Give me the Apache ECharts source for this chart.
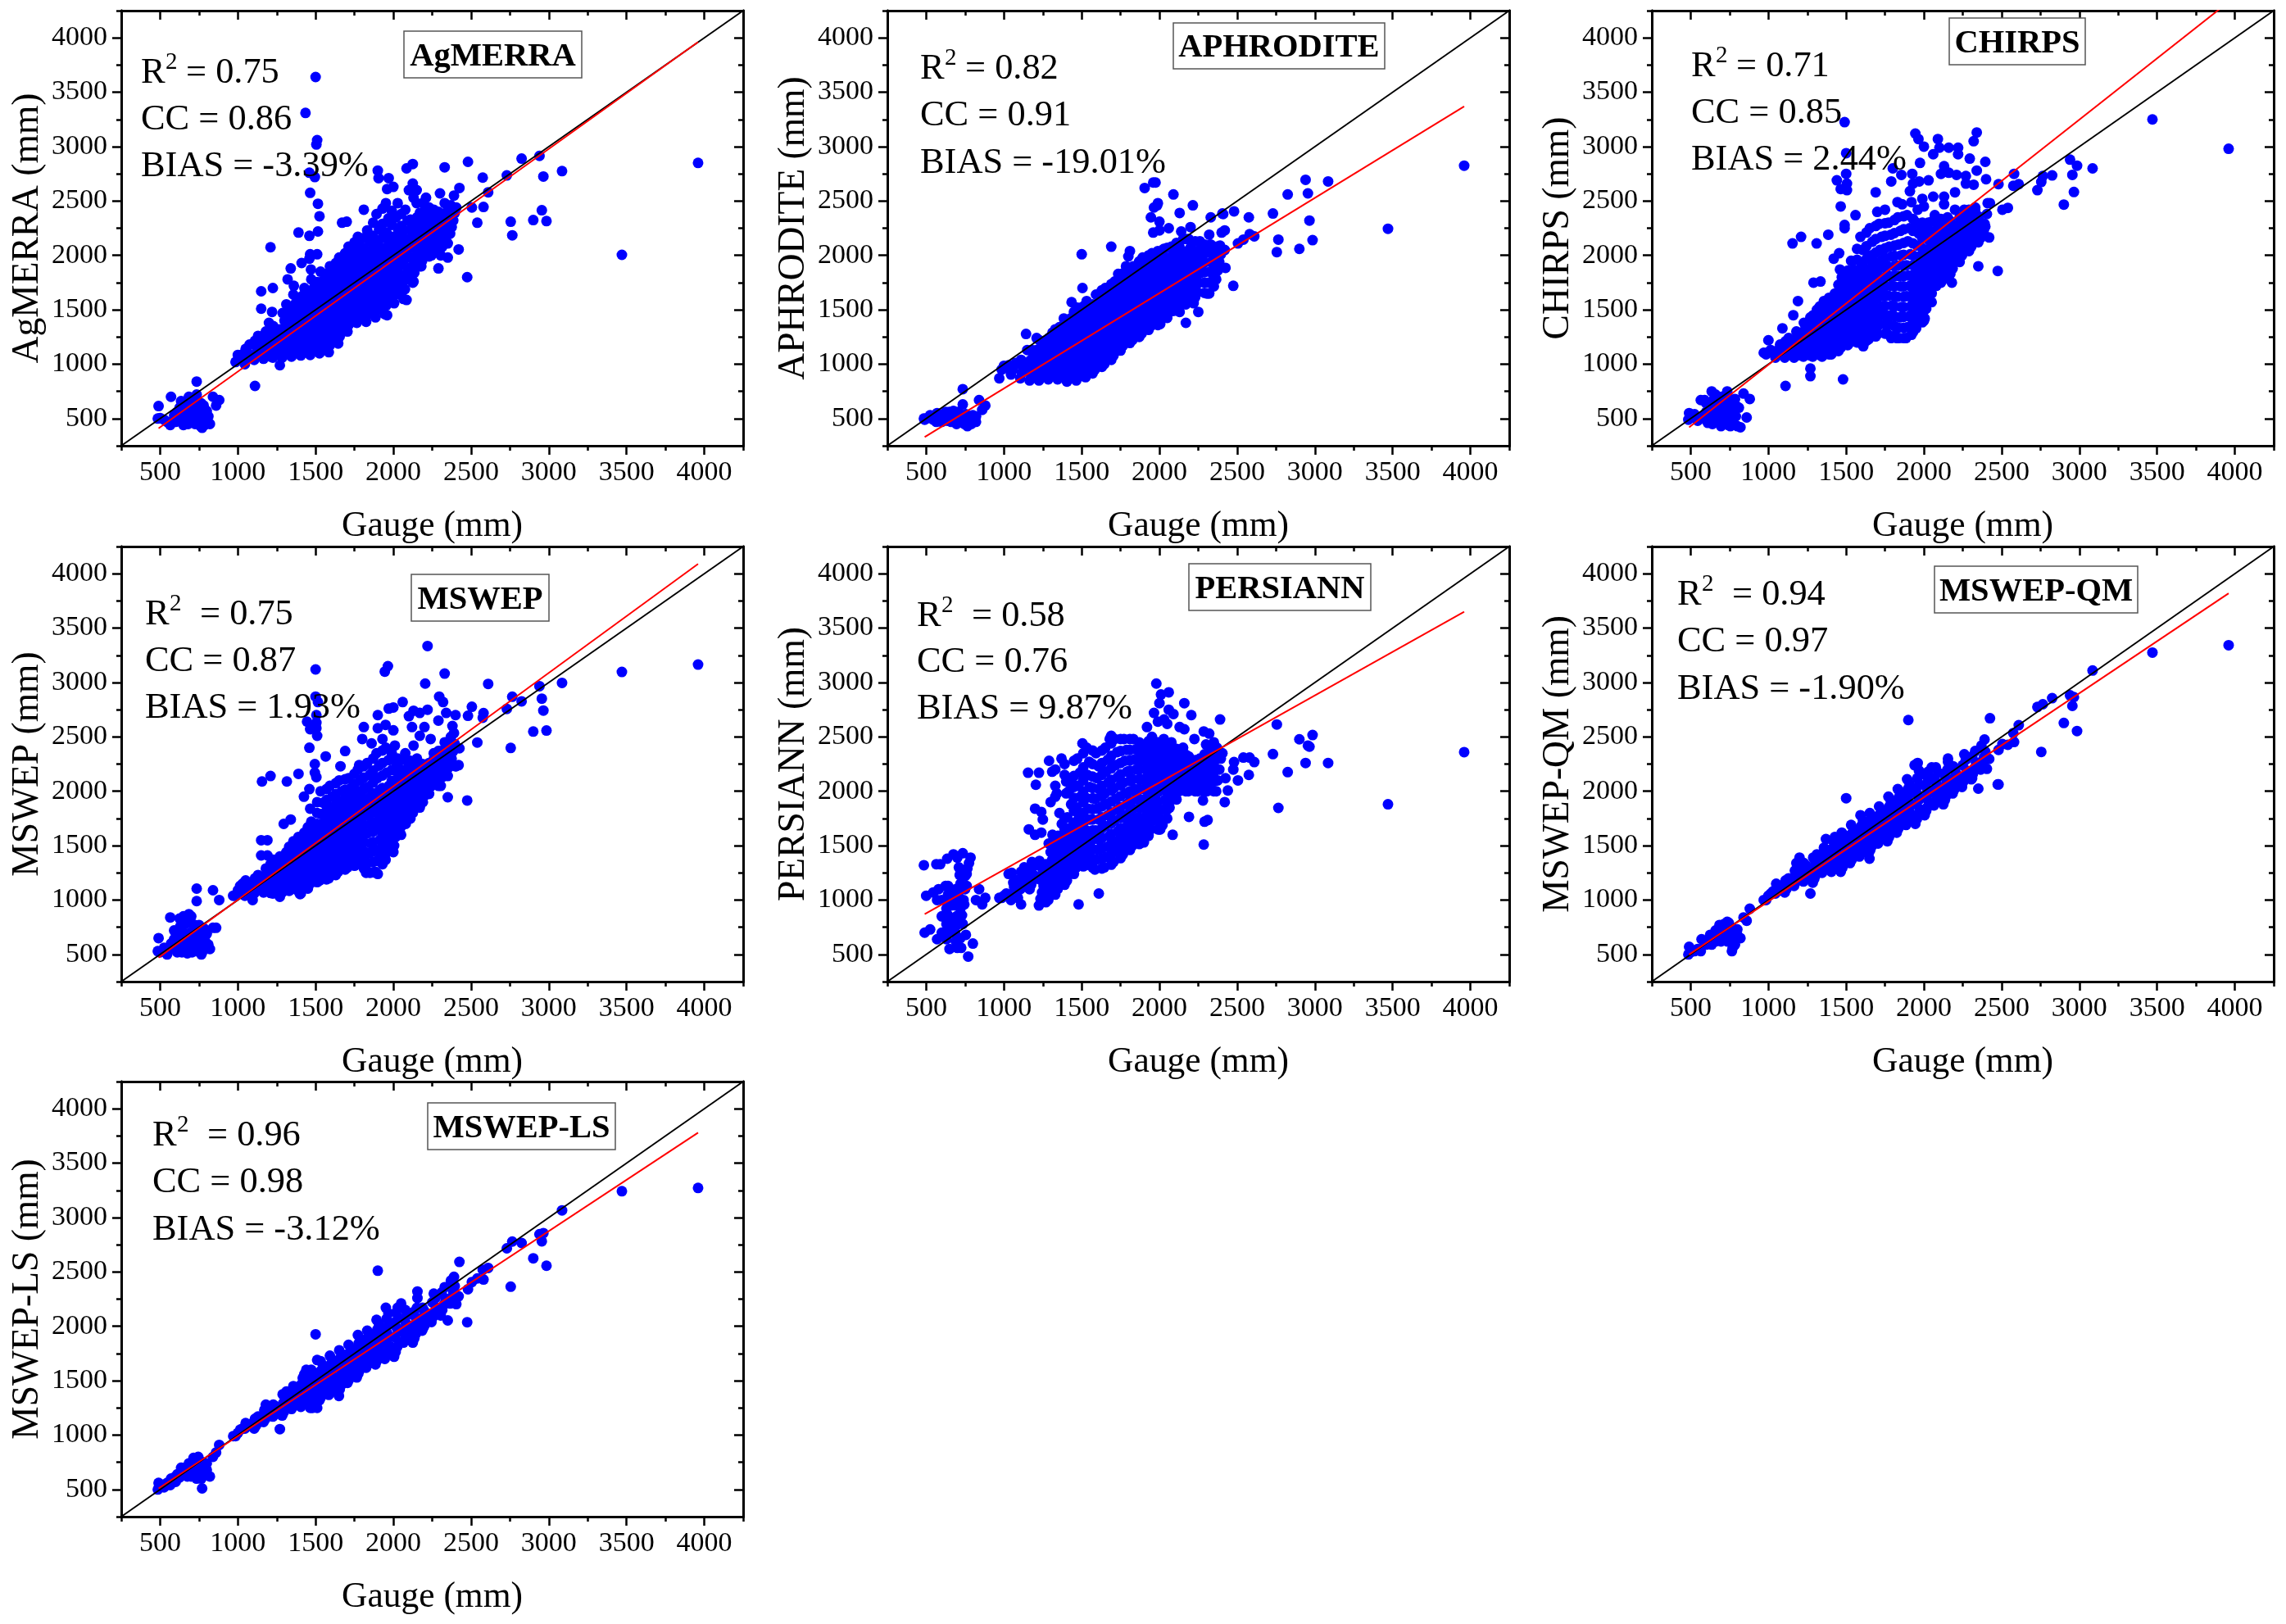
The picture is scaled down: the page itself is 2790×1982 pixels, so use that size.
<!DOCTYPE html>
<html><head><meta charset="utf-8">
<style>html,body{margin:0;padding:0;background:#fff}#c{width:2790px;height:1982px}</style>
<script src="https://cdn.jsdelivr.net/npm/echarts@6/dist/echarts.min.js"></script>
</head><body><div id="c"></div>
<script>
const productNames=['AgMERRA','APHRODITE','CHIRPS','MSWEP','PERSIANN','MSWEP-QM','MSWEP-LS'];
const r2Labels=['0.75','0.82','0.71','0.75','0.58','0.94','0.96'];
const ccLabels=['0.86','0.91','0.85','0.87','0.76','0.97','0.98'];
const biasLabels=['-3.39%','-19.01%','2.44%','1.93%','9.87%','-1.90%','-3.12%'];
const majorTicks=[500,1000,1500,2000,2500,3000,3500,4000];

const gaugeHigh=[3960,3470,3085,2985,2965,2955,2940,2900,2825,2765,2755,2730,2610,2580,2575,2540,2505,2480,2475,2425,2420,2405,2390];
const agmerraHigh=[2850,2005,2775,2315,2725,2415,2915,2325,2890,2185,2310,2735,2580,2445,2715,2300,2440,2860,1800,2620,2055,2440,2550];
const aphroditeHigh=[2825,2245,2680,2140,2320,2570,2695,2060,2560,2145,2030,2385,2175,2195,2350,2145,2110,2405,1720,1885,2050,2385,2090];
const chirpsHigh=[2980,3250,2800,2825,2583,2740,2880,2467,2735,2730,2675,2600,2655,2750,2640,2437,2420,2655,1857,2480,2165,2380,2290];
const mswepHigh=[3165,3097,2996,2558,2742,2851,2966,2549,2827,2869,2398,2757,2987,2718,2676,2448,2777,2694,1915,2395,2240,2232,2535];
const persiannHigh=[2360,1880,2260,2517,2410,2420,2260,2478,2176,1847,2614,2342,2268,2310,2150,2310,2100,2268,2200,2120,1900,2350,2660];
const qmHigh=[3343,3275,3110,2554,2866,2785,2882,2628,2856,2800,2362,2775,2607,2453,2535,2427,2434,2380,2063,2671,2297,2206,2476];
const lsHigh=[3272,3242,3066,2557,2857,2782,2847,2625,2766,2779,2364,2717,2537,2430,2520,2440,2407,2341,2038,2592,2276,2204,2455];

const gaugeLow=[485,490,500,525,545,565,570,590,610,625,635,650,660,675,685,695,705,715,725,735,735,745,755,765,770,785,800,820,840,860,880];
const agmerraLow=[500,615,505,490,470,440,700,530,560,600,660,440,500,560,700,480,610,530,450,840,720,560,480,640,415,440,570,450,700,620,670];
const aphroditeLow=[500,490,500,530,490,470,550,510,490,560,480,520,470,570,510,450,560,480,530,770,630,450,540,430,470,500,530,470,670,580,620];
const chirpsLow=[490,550,510,540,480,670,500,670,460,540,750,480,720,560,640,430,600,510,660,750,460,580,430,620,500,680,430,420,730,510,680];
const mswepLow=[530,650,520,560,500,840,600,720,560,830,530,640,780,510,870,700,520,620,770,1105,990,560,730,500,600,650,570,550,1090,745,1000];
const persiannLow=[1320,700,1040,730,1070,1330,640,1330,850,1130,1380,550,950,1420,700,850,1040,1230,560,1430,780,960,680,1290,480,1390,600,1000,1100,960,1020];
const qmLow=[500,570,520,530,550,530,640,600,620,680,590,660,720,650,770,620,700,780,660,620,800,790,700,530,620,590,730,650,840,810,920];
const lsLow=[500,560,530,520,560,540,600,610,640,610,700,640,700,620,740,660,700,790,650,780,600,800,720,600,510,700,740,620,800,840,910];

const gaugeMid=[
[985,1000,1015,1030],
[1045,1055,1065,1075,1050],
[1105,1115,1125,1135,1110,1130],
[1165,1175,1185,1195,1170,1190,1180],
[1225,1235,1245,1255,1230,1250,1240,1228],
[1285,1295,1305,1315,1290,1310,1300,1288,1312],
[1345,1355,1365,1375,1350,1370,1360,1348,1372,1357],
[1405,1415,1425,1435,1410,1430,1420,1408,1432,1417,1428],
[1465,1475,1485,1495,1470,1490,1480,1468,1492,1477,1488,1472],
[1525,1535,1545,1555,1530,1550,1540,1528,1552,1537,1548,1532],
[1585,1595,1605,1615,1590,1610,1600,1588,1612,1597,1608,1592],
[1645,1655,1665,1675,1650,1670,1660,1648,1672,1657,1668,1652],
[1705,1715,1725,1735,1710,1730,1720,1708,1732,1717,1728,1712],
[1765,1775,1785,1795,1770,1790,1780,1768,1792,1777,1788,1772],
[1825,1835,1845,1855,1830,1850,1840,1828,1852,1837,1848,1832],
[1885,1895,1905,1915,1890,1910,1900,1888,1912,1897,1908,1892],
[1945,1955,1965,1975,1950,1970,1960,1948,1972,1957,1968,1952],
[2005,2015,2025,2035,2010,2030,2020,2008,2032,2017,2028],
[2065,2075,2085,2095,2070,2090,2080,2068,2092,2077],
[2125,2135,2145,2155,2130,2150,2140,2128,2152],
[2185,2195,2205,2215,2190,2210,2200,2188],
[2245,2255,2265,2275,2250,2270,2260],
[2305,2315,2325,2335,2310,2330],
[2365,2375,2385,2395,2370]];

const agmerraMid=[
[1020,1085,1050,1090],[1000,1050,1100,1180,1140],[1040,1090,1130,1170,1215,1260],[1050,1090,1130,1170,1210,1260,1300],
[1060,1100,1145,1185,1230,1270,1310,1350],[1060,1115,1170,1225,1280,1340,1400,1470,1550],[1070,1130,1190,1250,1310,1370,1430,1490,1560,1640],
[1080,1140,1200,1260,1320,1380,1440,1500,1560,1630,1700],[1085,1145,1205,1265,1325,1385,1445,1505,1565,1625,1700,1780],
[1100,1165,1230,1295,1360,1425,1490,1555,1620,1685,1765,1850],[1110,1180,1250,1320,1390,1460,1530,1600,1670,1740,1820,1900],
[1190,1255,1320,1385,1450,1515,1580,1650,1720,1790,1880,1980],[1300,1365,1430,1495,1560,1625,1690,1755,1820,1890,1980,2080],
[1380,1445,1510,1575,1640,1710,1780,1850,1920,1990,2080,2170],[1390,1460,1530,1600,1670,1740,1810,1880,1950,2030,2130,2230],
[1430,1500,1570,1640,1715,1790,1865,1940,2020,2110,2240,2380],[1460,1540,1620,1700,1780,1860,1940,2020,2110,2210,2340,2480],
[1560,1640,1720,1800,1880,1960,2040,2130,2230,2350,2480],[1600,1690,1780,1870,1960,2050,2140,2230,2320,2420],
[1750,1840,1930,2020,2100,2170,2240,2300,2350],[1950,2030,2110,2190,2270,2340,2410,2480],[2000,2070,2140,2210,2280,2350,2420],
[2000,2080,2160,2230,2300,2380],[2200,2260,2320,2390,2460]];
const aphroditeMid=[
[950,985,965,990],[905,945,985,1010,960],[870,920,955,1000,1040,975],[850,895,945,990,1035,1090,1130],
[850,900,950,1000,1050,1105,1160,1220],[860,915,970,1025,1080,1130,1185,1240,1290],[860,915,970,1030,1085,1140,1190,1240,1295,1340],
[840,900,960,1020,1080,1135,1190,1245,1300,1360,1420],[850,910,970,1030,1090,1150,1210,1270,1330,1390,1455,1520],
[880,940,1000,1060,1120,1180,1240,1300,1360,1430,1505,1580],[950,1010,1065,1120,1180,1240,1300,1360,1425,1490,1565,1640],
[1000,1060,1120,1180,1240,1300,1365,1430,1495,1560,1630,1700],[1080,1135,1195,1250,1310,1370,1430,1490,1555,1620,1690,1760],
[1170,1225,1280,1340,1400,1460,1520,1580,1640,1705,1770,1840],[1220,1280,1340,1400,1460,1520,1580,1640,1705,1770,1835,1900],
[1280,1340,1405,1465,1530,1590,1650,1715,1780,1845,1915,1980],[1350,1410,1470,1530,1590,1650,1710,1770,1830,1895,1960,2020],
[1370,1440,1510,1580,1650,1720,1790,1855,1920,1990,2060],[1480,1550,1620,1690,1760,1830,1900,1965,2025,2080],
[1530,1610,1690,1770,1850,1930,2000,2080,2150],[1570,1650,1740,1830,1910,1990,2070,2150],[1660,1750,1840,1930,2010,2075,2130],
[1650,1750,1850,1940,2025,2100],[1780,1860,1940,2010,2080]];
const chirpsMid=[
[1090,1110,1130,1105],[1060,1095,1130,1180,1115],[1060,1100,1140,1180,1210,1240],[1060,1100,1140,1180,1220,1260,1300],
[1070,1115,1160,1205,1250,1295,1340,1380],[1070,1125,1180,1235,1285,1340,1395,1450,1500],[1070,1125,1185,1240,1295,1350,1410,1465,1520,1580],
[1090,1145,1200,1255,1310,1370,1430,1485,1540,1595,1650],[1150,1210,1270,1330,1390,1450,1510,1570,1630,1690,1745,1800],
[1200,1265,1330,1395,1460,1525,1590,1655,1720,1790,1870,1950],[1200,1280,1360,1440,1520,1600,1680,1760,1840,1930,2050,2170],
[1230,1315,1400,1485,1570,1655,1740,1825,1910,2000,2125,2250],[1280,1365,1450,1535,1620,1705,1790,1875,1960,2050,2170,2290],
[1280,1365,1450,1540,1630,1720,1810,1900,1990,2080,2190,2300],[1240,1335,1430,1525,1620,1715,1810,1905,2000,2100,2225,2350],
[1240,1340,1440,1530,1625,1720,1815,1910,2010,2130,2250,2370],[1350,1430,1510,1590,1670,1750,1830,1910,1990,2090,2200,2300],
[1420,1510,1600,1690,1780,1870,1960,2050,2140,2230,2300],[1720,1790,1860,1930,2000,2070,2140,2200,2260,2320],
[1780,1850,1920,1990,2060,2130,2200,2280,2350],[1880,1950,2010,2070,2120,2170,2230,2280],[2000,2070,2140,2210,2280,2350,2420],
[2080,2150,2215,2280,2350,2420],[2160,2195,2230,2265,2300]];
const mswepMid=[
[1040,1090,1130,1150],[1040,1080,1120,1150,1180],[1060,1100,1135,1165,1200,1230],[1070,1105,1140,1180,1215,1250,1290],
[1060,1105,1150,1195,1240,1285,1330,1370],[1070,1115,1160,1205,1250,1295,1345,1395,1440],[1100,1145,1190,1235,1280,1330,1380,1430,1485,1540],
[1060,1120,1180,1240,1290,1345,1400,1450,1505,1560,1620],[1150,1200,1250,1300,1350,1400,1450,1505,1560,1610,1665,1720],
[1180,1240,1300,1365,1430,1500,1570,1640,1710,1790,1895,2000],[1200,1270,1340,1410,1480,1550,1620,1695,1770,1850,1950,2050],
[1260,1330,1400,1470,1540,1610,1680,1750,1825,1905,2000,2100],[1300,1370,1440,1510,1580,1650,1720,1790,1865,1945,2030,2120],
[1330,1400,1470,1540,1610,1685,1760,1835,1915,2000,2100,2200],[1250,1340,1430,1520,1610,1695,1780,1865,1950,2040,2150,2260],
[1260,1360,1460,1555,1650,1740,1830,1920,2010,2120,2235,2350],[1400,1480,1560,1640,1720,1800,1880,1960,2050,2170,2285,2400],
[1500,1580,1660,1740,1820,1900,1980,2060,2140,2220,2300],[1700,1770,1840,1910,1980,2050,2120,2190,2270,2350],
[1800,1860,1920,1980,2040,2100,2160,2230,2300],[1900,1950,2000,2050,2100,2150,2200,2250],[2050,2090,2130,2170,2210,2255,2300],
[2050,2130,2210,2290,2370,2450],[2230,2300,2370,2435,2500]];
const persiannMid=[
[1020,1040,1060,1030],[1000,1060,1120,1185,1250],[1100,1140,1180,1220,1260,1300],[1100,1140,1180,1225,1270,1310,1350],
[950,1010,1070,1130,1190,1250,1305,1360],[1000,1075,1150,1225,1300,1370,1440,1520,1600],[1100,1170,1240,1310,1380,1450,1520,1590,1700,1800],
[1180,1260,1340,1420,1500,1580,1660,1760,1880,2000,2120],[1300,1370,1440,1510,1580,1660,1750,1850,1950,2050,2170,2300],
[1320,1400,1480,1560,1640,1740,1840,1940,2040,2150,2270,2400],[1280,1370,1460,1550,1640,1740,1840,1930,2020,2120,2230,2350],
[1300,1395,1490,1585,1680,1780,1880,1980,2080,2180,2290,2400],[1350,1445,1540,1635,1730,1830,1930,2030,2130,2240,2360,2480],
[1420,1510,1600,1690,1780,1880,1980,2080,2180,2280,2380,2480],[1500,1585,1670,1755,1840,1930,2020,2110,2200,2290,2385,2480],
[1530,1610,1690,1770,1850,1930,2020,2110,2200,2280,2350,2420],[1650,1730,1810,1890,1970,2050,2130,2210,2280,2350,2425,2500],
[1650,1740,1830,1920,2010,2100,2180,2260,2330,2400,2480],[1850,1920,1990,2060,2130,2195,2260,2320,2385,2450],
[2000,2050,2100,2150,2200,2250,2300,2350,2400],[2000,2045,2090,2135,2180,2225,2270,2320],[2000,2050,2100,2150,2200,2250,2300],
[2000,2075,2150,2225,2300,2380],[2000,2100,2200,2300,2400]];
const qmMid=[
[1000,1040,1060,1080],[1060,1085,1105,1130,1150],[1070,1100,1130,1155,1180,1200],[1130,1165,1200,1235,1270,1305,1340],
[1170,1195,1220,1245,1270,1295,1320,1340],[1160,1195,1230,1265,1300,1330,1360,1390,1420],[1250,1275,1300,1325,1350,1375,1400,1425,1455,1480],
[1260,1290,1320,1350,1380,1410,1440,1470,1500,1540,1580],[1260,1295,1330,1365,1400,1435,1470,1505,1540,1565,1595,1620],
[1340,1370,1400,1430,1460,1490,1520,1550,1580,1610,1650,1690],[1400,1430,1460,1490,1520,1550,1580,1610,1640,1680,1730,1780],
[1430,1460,1495,1530,1565,1600,1635,1670,1705,1740,1770,1800],[1520,1550,1580,1610,1640,1670,1700,1730,1760,1790,1825,1860],
[1540,1575,1610,1645,1680,1715,1750,1785,1820,1860,1905,1950],[1620,1655,1690,1725,1760,1795,1830,1865,1900,1940,1980,2020],
[1690,1725,1760,1795,1830,1865,1900,1940,1980,2020,2065,2110],[1700,1745,1790,1835,1880,1925,1970,2015,2060,2120,2190,2250],
[1780,1820,1860,1900,1940,1980,2020,2060,2100,2140,2180],[1870,1905,1940,1975,2010,2045,2080,2120,2170,2220],
[1880,1920,1960,2000,2040,2080,2120,2160,2200],[1980,2015,2050,2085,2120,2155,2190,2230],[2040,2090,2140,2190,2240,2290,2340],
[2110,2160,2210,2265,2320,2370],[2200,2255,2310,2365,2420]];
const lsMid=[
[990,1020,1050,1060],[1060,1075,1090,1100,1110],[1060,1085,1110,1130,1150,1170],[1120,1145,1175,1205,1230,1255,1280],
[1170,1185,1200,1215,1230,1250,1265,1280],[1180,1210,1240,1265,1290,1320,1350,1375,1400],[1240,1265,1290,1315,1340,1365,1390,1410,1430,1450],
[1260,1290,1320,1350,1380,1410,1440,1465,1490,1525,1560],[1250,1285,1320,1355,1390,1425,1460,1490,1520,1550,1575,1600],
[1320,1350,1380,1410,1440,1470,1500,1530,1560,1595,1640,1680],[1370,1400,1430,1460,1490,1520,1550,1580,1610,1650,1690,1730],
[1380,1420,1460,1495,1530,1565,1600,1635,1670,1705,1745,1780],[1480,1510,1540,1570,1600,1630,1660,1690,1720,1755,1795,1830],
[1530,1565,1600,1635,1670,1705,1740,1775,1810,1845,1885,1920],[1620,1650,1680,1710,1740,1770,1800,1830,1860,1895,1930,1960],
[1650,1685,1720,1755,1790,1825,1860,1895,1930,1970,2015,2060],[1700,1740,1780,1820,1860,1900,1940,1980,2020,2070,2120,2170],
[1720,1765,1810,1855,1900,1945,1990,2035,2080,2125,2170],[1850,1880,1910,1940,1970,2000,2030,2065,2105,2150],
[1850,1890,1930,1970,2010,2050,2090,2130,2170],[1960,1990,2020,2050,2080,2110,2140,2170],[2040,2085,2130,2175,2220,2260,2300],
[2100,2150,2200,2255,2310,2360],[2210,2265,2320,2370,2420]];

// interior of the dense clouds, one list of y per gauge value below
const gaugeCore=[1210,1270,1330,1390,1450,1510,1570,1630,1690,1750,1810,1870,1930,1990,2050,2110,2170,2230,2290,2350];
const agmerraCore=[
[1070,1110,1150,1190,1235,1280],[1080,1130,1175,1225,1275,1320],[1095,1150,1210,1265,1320,1385,1450,1520],[1100,1160,1220,1280,1340,1400,1460,1525,1600],
[1110,1170,1230,1290,1350,1410,1470,1530,1595,1665],[1125,1190,1250,1310,1375,1440,1500,1560,1625,1690,1755],[1140,1210,1275,1340,1410,1475,1545,1610,1680,1750,1830],
[1220,1285,1350,1420,1490,1560,1625,1695,1765,1850,1930],[1330,1395,1465,1525,1590,1655,1725,1790,1855,1935,2020],[1410,1475,1540,1610,1675,1745,1815,1885,1955,2035,2120],
[1425,1495,1565,1635,1705,1775,1845,1915,1985,2065,2160],[1465,1535,1605,1680,1750,1825,1900,1980,2070,2180,2300],[1500,1580,1660,1740,1820,1900,1980,2065,2160,2290,2430],
[1590,1670,1750,1830,1910,1990,2080,2170,2280,2410],[1640,1730,1820,1910,2000,2090,2180,2270,2380],[1800,1890,1980,2070,2160,2240,2330],[1900,1990,2080,2160,2240,2310,2390],
[1990,2060,2130,2210,2280,2350,2440],[2040,2110,2190,2260,2330,2400],[2110,2190,2260,2340,2420]];
const aphroditeCore=[
[875,925,975,1025,1075,1130],[885,935,990,1045,1100,1165,1220],[890,945,1000,1055,1110,1165,1220,1270,1320],[880,935,990,1045,1100,1160,1215,1270,1330,1385],
[875,935,995,1055,1115,1170,1230,1290,1350,1410,1480],[890,955,1015,1075,1135,1195,1255,1315,1380,1450,1530],[915,980,1040,1095,1150,1210,1270,1330,1395,1465,1550],
[975,1035,1095,1150,1210,1270,1335,1400,1465,1530,1615,1680],[1040,1100,1160,1215,1275,1335,1400,1460,1525,1590,1660,1735],[1125,1180,1240,1295,1355,1415,1475,1535,1600,1665,1730,1800],
[1195,1250,1310,1370,1430,1490,1550,1610,1675,1740,1800,1870],[1250,1310,1370,1430,1495,1555,1615,1680,1740,1810,1875,1945],[1315,1375,1440,1500,1560,1620,1680,1740,1805,1870,1940,2000],
[1360,1425,1490,1555,1620,1685,1750,1815,1875,1945,2040],[1425,1495,1565,1635,1705,1775,1845,1910,1975,2070],[1505,1580,1655,1730,1810,1880,1950,2040,2115],[1550,1630,1715,1800,1880,1960,2035,2150],
[1615,1700,1790,1880,1960,2040,2130],[1655,1750,1845,1935,2020,2100],[1715,1805,1890,1975,2060]];
const chirpsCore=[
[1080,1120,1160,1200,1240,1290],[1080,1125,1170,1220,1265,1320,1370,1430],[1085,1140,1195,1250,1305,1360,1420,1480,1530],[1090,1150,1205,1260,1320,1380,1440,1495,1560,1610],
[1120,1180,1240,1300,1360,1420,1480,1540,1600,1665,1730],[1175,1240,1300,1365,1425,1490,1550,1620,1690,1770,1860],[1200,1270,1345,1420,1490,1560,1635,1710,1780,1860,1960,2060],
[1215,1300,1380,1460,1545,1630,1710,1790,1875,1965,2085,2210],[1255,1340,1425,1510,1595,1680,1765,1850,1935,2025,2150,2270],[1280,1365,1450,1535,1625,1715,1800,1885,1975,2065,2180,2295],
[1260,1350,1440,1530,1625,1715,1810,1900,1995,2090,2205,2325],[1240,1335,1435,1525,1620,1715,1810,1905,2005,2115,2240,2360],[1295,1385,1475,1560,1645,1735,1820,1910,2000,2110,2225,2335],
[1385,1470,1555,1640,1725,1810,1895,1980,2065,2160,2250,2300],[1570,1650,1730,1815,1900,1985,2070,2150,2220,2310],[1750,1820,1890,1960,2030,2100,2170,2240,2335],[1830,1900,1965,2030,2095,2150,2215,2315],
[1940,2010,2075,2140,2210,2290,2350],[2040,2110,2180,2245,2315,2420],[2120,2170,2225,2280,2360]];
const mswepCore=[
[1065,1105,1145,1190,1230,1270,1330],[1065,1110,1155,1200,1245,1290,1340,1400],[1085,1130,1175,1220,1265,1310,1360,1410,1490],[1080,1130,1185,1240,1285,1340,1390,1440,1495,1580],
[1105,1160,1215,1270,1320,1370,1425,1480,1530,1590,1670],[1165,1220,1275,1330,1390,1450,1510,1575,1635,1700,1800,1900],[1190,1255,1320,1385,1455,1525,1595,1665,1740,1820,1920,2020],
[1230,1300,1370,1440,1510,1580,1650,1720,1795,1880,1975,2075],[1280,1350,1420,1490,1560,1630,1700,1770,1845,1925,2015,2110],[1315,1385,1455,1525,1595,1665,1740,1815,1890,1970,2065,2160],
[1290,1370,1450,1530,1610,1690,1770,1850,1930,2020,2125,2230],[1255,1350,1445,1535,1630,1715,1805,1890,1980,2080,2190,2300],[1330,1420,1510,1600,1685,1770,1855,1940,2030,2145,2260,2375],
[1450,1530,1610,1690,1770,1850,1930,2010,2095,2195,2295,2350],[1600,1675,1750,1825,1900,1975,2050,2125,2200,2290],[1750,1815,1880,1945,2010,2075,2140,2210,2280],[1850,1905,1960,2015,2070,2125,2180,2240],
[1975,2025,2070,2120,2160,2210,2260],[2050,2100,2160,2220,2290,2370],[2140,2210,2290,2370,2450]];
const persiannCore=[
[],[1050,1120,1190,1260,1330],[1050,1120,1190,1260,1330,1400,1470,1560,1950,2050,2200],[1140,1210,1280,1350,1420,1490,1560,1650,1750,2150,2250],
[1240,1310,1380,1460,1540,1620,1710,1820,1940,2040,2140,2280],[1310,1380,1460,1540,1620,1710,1800,1900,2000,2100,2220,2350],[1300,1380,1470,1555,1640,1740,1835,1935,2030,2135,2250,2375],
[1290,1380,1475,1570,1660,1760,1860,1955,2050,2150,2260,2375],[1325,1420,1515,1610,1705,1805,1905,2005,2105,2210,2325,2440],[1385,1475,1570,1660,1755,1855,1955,2055,2155,2260,2370,2480],
[1460,1545,1635,1720,1810,1905,2000,2095,2190,2285,2380,2480],[1515,1595,1680,1760,1845,1930,2020,2110,2200,2285,2365,2450],[1590,1670,1750,1830,1910,1990,2075,2160,2240,2315,2390,2460],
[1650,1735,1820,1905,1990,2075,2155,2235,2305,2375,2450],[1750,1830,1905,1990,2065,2145,2220,2290,2360,2420],[1925,1985,2045,2105,2165,2230,2285,2335,2390],[2000,2050,2095,2140,2190,2240,2285,2335],
[2000,2050,2095,2145,2190,2240,2285],[2000,2060,2125,2190,2250,2340],[2000,2090,2175,2260,2340,2390]];
const qmCore=[];
const lsCore=[];

const agmerraExtra=[[1500,3640],[1435,3310],[1510,3060],[1505,3020],[1495,2720],[1460,2760],[1465,2575],[1515,2475],[1525,2360],[1515,2220],[1390,2210],[1460,2180],[1210,2075],[1465,2010],[1510,2010],[1460,1970],[1410,1930],[1470,1870],[1340,1880],[1320,1780],[1360,1720],[1225,1700],[1150,1670],[1150,1510],[1220,1480],[1200,1380],[1110,800],[1270,990],[1670,2300],[1700,2310],[1810,2420],[1900,2780],[1905,2710],[1970,2710],[1960,2610],[2000,2630],[2085,2800],[2125,2840],[2100,2600],[2125,2660],[2150,2600],[2130,2530],[2150,2480],[2210,2530],[2300,2570],[2330,2480],[2180,1900],[2290,1880],[2130,1760],[2085,1590],[1960,1450],[2330,2810],[2350,1980],
[600,470],[600,520],[620,520],[640,480],[640,540],[660,590],[680,450],[680,520],[680,620],[700,500],[700,560],[720,480],[720,590],[720,680],[740,500],[740,620],[760,430],[760,560],[780,520],[780,620],[800,470],[810,520],[640,620]];
const aphroditeExtra=[[1905,2620],[1960,2670],[1975,2670],[1990,2480],[1965,2440],[1985,2460],[2090,2560],[2215,2460],[2130,2390],[1945,2350],[2000,2310],[2060,2250],[1960,2210],[2000,2230],[2140,2220],[2200,2260],[2330,2350],[2410,2380],[2320,2190],[2400,2210],[2420,2230],[1690,2080],[1500,2010],[1810,2040],[1800,1990],[1785,1900],[1735,1830],[1505,1700],[1435,1570],[1385,1420],[1142,1278],[1210,1240],[1150,1130],[970,870],[2170,1380],[2130,1480],[2090,1490],[2250,1480],[2220,1560],[2320,1650],
[580,540],[600,470],[630,530],[650,560],[670,480],[690,540],[710,500],[730,470],[750,500],[770,510],[790,450],[820,520],[640,500]];
const chirpsExtra=[[1490,3225],[1500,2940],[1500,2750],[1440,2690],[1505,2660],[1505,2600],[1465,2610],[1465,2450],[1690,2580],[1560,2370],[1490,2280],[1490,2250],[1385,2190],[1210,2170],[1155,2110],[1310,2110],[1455,2020],[1420,1970],[1460,1870],[1290,1750],[1335,1760],[1190,1580],[1160,1450],[1090,1330],[1000,1220],[970,1105],[1270,960],[1270,890],[1110,800],[1480,860],[1610,1165],[1945,3120],[1965,3070],[2000,3000],[1975,2850],[2090,3070],[2160,2990],[2100,2990],[2060,2930],[2220,2990],[2220,2930],[2320,3050],[2340,3130],[2295,2890],[2395,2860],[2130,2820],[2340,2780],[1800,2800],[1855,2740],[1790,2680],[1925,2750],[1930,2660],[1970,2680],[2030,2690],[2110,2750],[2160,2760],[2210,2740],[2270,2730],[2400,2700],[2270,2660],[2320,2650],[1910,2590],[1990,2520],[1830,2490],[1860,2470],[1920,2490],[2060,2540],[2130,2540],[2200,2580],[2130,2470],[2000,2450],[1700,2400],[1750,2420],[1960,2420],[2070,2370],[2200,2420],[2330,2440],[2410,2480],[2100,1750],[2180,1750],[2000,1580],[2000,1490],[2000,1400],[1950,1330],[1920,1270],[1840,1240],[1790,1240],[2080,1720],[2350,1900],
[580,520],[600,560],[600,640],[620,500],[630,620],[650,560],[650,680],[670,500],[670,610],[690,520],[700,700],[710,450],[730,540],[730,620],[750,500],[750,680],[770,560],[770,450],[790,620],[790,520],[810,600],[640,450],[690,680],[740,440]];
const mswepExtra=[[2220,3335],[1965,3150],[1945,3100],[1500,3120],[2205,2990],[2295,2870],[2320,2820],[2330,3082],[1500,2870],[1515,2820],[1505,2700],[1505,2630],[1445,2640],[1505,2580],[1465,2570],[1510,2510],[1460,2400],[1565,2320],[1495,2250],[1495,2170],[1390,2160],[1210,2140],[1155,2090],[1315,2090],[1505,2130],[1460,2020],[1425,1950],[1465,1840],[1340,1740],[1295,1700],[1150,1550],[1190,1550],[1150,1410],[1190,1410],[1095,1000],[1040,1070],[1270,1030],[1400,1055],[1900,1240],[1850,1250],[1950,1370],[1920,1400],[2000,1440],[2000,1500],[2080,1700],[2130,1830],[2130,1900],[2190,1900],[2350,1945],[2060,2820],[1970,2760],[2000,2770],[2130,2740],[2170,2720],[1900,2700],[1950,2610],[1810,2590],[1900,2580],[2100,2690],[2220,2750],[2340,2720],[2400,2700],[2290,2650],[2380,2600],[2200,2590],[2120,2590],[2170,2510],[1800,2480],[1860,2440],[1930,2480],[2000,2560],[2010,2420],[2240,2480],[2130,2420],[1690,2370],[1660,2230],[1780,2240],[2400,2230],[2260,2350],[840,745],[970,1040],
[580,560],[590,640],[610,700],[620,600],[630,760],[640,520],[650,700],[660,600],[670,820],[680,560],[680,680],[700,620],[700,790],[710,560],[720,700],[730,530],[740,640],[750,770],[760,580],[760,680],[780,740],[790,620],[800,690],[810,590],[650,850],[700,850],[770,520],[610,520]];
const persiannExtra=[[1980,2990],[2010,2890],[2060,2910],[2000,2810],[2160,2810],[2060,2750],[2090,2710],[1965,2720],[2205,2700],[1990,2640],[2030,2660],[1920,2590],[2050,2620],[2130,2590],[2160,2570],[2285,2550],[2320,2530],[2225,2480],[2300,2430],[2350,2450],[1690,2510],[1680,2480],[1505,2440],[1290,2280],[1370,2300],[1310,2180],[1155,2170],[1225,2170],[1205,2060],[1400,2090],[1440,2070],[1300,1900],[1340,1980],[1400,1980],[1200,1840],[1240,1810],[1250,1740],[1160,1650],[1240,1620],[1200,1600],[1030,1240],[1060,1160],[1090,1020],[1110,960],[970,1020],[1480,960],[1610,1060],[1270,980],[2085,1600],[2000,1650],[2020,1690],[1900,1530],[1880,1530],[2190,1765],[2285,1510],[2280,1915],[2310,1735],[2290,1720],[2440,2007],
[600,700],[600,850],[600,1000],[630,640],[630,780],[630,920],[660,700],[660,830],[660,1080],[690,620],[690,760],[690,950],[690,1100],[720,650],[720,800],[720,920],[720,1150],[750,1100],[760,1240],[775,1340],[570,1000],[580,1100],[640,1050],[710,1300],[700,1390],[620,700],[640,860],[650,1000],[670,770],[680,1040],[700,850],[710,1020],[730,860],[740,1000],[750,1220],[640,1130],[760,1130],[700,560]];
const qmExtra=[[1500,1936],[1900,2655],[1270,1060],[1650,1380],[2155,2300],[2155,2270],[2310,2118],[2350,2024],[1960,2260],[1940,2240],[2050,2220],[1370,1560],[1200,1390],[2480,2063],[970,1000],
[600,590],[630,640],[660,620],[680,690],[700,640],[720,720],[740,680],[760,650],[770,740],[780,660],[800,680],[770,560]];
const lsExtra=[[1500,1927],[1900,2511],[1270,1055],[1650,1360],[1510,1690],[2155,2320],[2155,2260],[2350,2054],[1480,1250],[1510,1250],[2050,2210],[1440,1600],[970,990],
[600,570],[630,620],[660,660],[680,680],[700,620],[720,700],[740,680],[760,760],[760,640],[780,640],[800,680]];

const fitAgmerra=[[490,410],[3960,3962]];
const fitAphrodite=[[490,330],[3960,3370]];
const fitChirps=[[490,420],[3960,4330]];
const fitMswep=[[490,470],[3960,4090]];
const fitPersiann=[[490,870],[3960,3650]];
const fitQm=[[490,500],[3960,3820]];
const fitLs=[[490,510],[3960,3780]];
const identityLine=[[250,250],[4250,4250]];

const highSets=[agmerraHigh,aphroditeHigh,chirpsHigh,mswepHigh,persiannHigh,qmHigh,lsHigh];
const lowSets=[agmerraLow,aphroditeLow,chirpsLow,mswepLow,persiannLow,qmLow,lsLow];
const midSets=[agmerraMid,aphroditeMid,chirpsMid,mswepMid,persiannMid,qmMid,lsMid];
const coreSets=[agmerraCore,aphroditeCore,chirpsCore,mswepCore,persiannCore,qmCore,lsCore];
const extraSets=[agmerraExtra,aphroditeExtra,chirpsExtra,mswepExtra,persiannExtra,qmExtra,lsExtra];
const fitSets=[fitAgmerra,fitAphrodite,fitChirps,fitMswep,fitPersiann,fitQm,fitLs];

// layout in pixels
const grids=[[148,13],[1083,13],[2016,13],[148,667],[1083,667],[2016,667],[148,1320]];
const GW=759,GH=531;
const textLayout=[
 {x:172,y:[86,143,200],eq:55,box:[493,38,710,95]},
 {x:1123,y:[81,138,196],eq:55,box:[1432,28,1690,84]},
 {x:2064,y:[78,135,192],eq:55,box:[2379,22,2545,79]},
 {x:177,y:[747,804,861],eq:67,box:[502,701,670,758]},
 {x:1119,y:[749,805,862],eq:67,box:[1451,688,1673,745]},
 {x:2047,y:[723,780,838],eq:67,box:[2361,691,2609,748]},
 {x:186,y:[1383,1440,1498],eq:67,box:[522,1346,751,1403]}];

const FF="'Liberation Serif','Times New Roman',serif";
function ax(gridIndex,position,name,mode,isY){
  const major=mode==='major'||mode==='oppMajor';
  const opp=mode==='oppMajor'||mode==='oppMinor';
  const a={type:'value',gridIndex,position,min:250,max:4250,interval:250,silent:true,
    splitLine:{show:false},
    axisLine:{show:true,onZero:false,lineStyle:{color:'#000',width:3}},
    axisTick:{show:true,inside:opp,length:major?11:6,lineStyle:{color:'#000',width:2.5}},
    axisLabel:{show:false}};
  if(major) a.axisTick.customValues=majorTicks;
  if(mode==='major'){
    a.axisLabel={show:true,customValues:majorTicks,formatter:v=>String(v),color:'#000',
      fontFamily:FF,fontSize:34,margin:isY?17:16.5};
    a.name=name;a.nameLocation='middle';a.nameGap=isY?91:77;
    a.nameTextStyle={color:'#000',fontFamily:FF,fontSize:isY?45.5:43.5};
  }
  return a;
}
const option={animation:false,backgroundColor:'#fff',grid:[],xAxis:[],yAxis:[],series:[],graphic:[]};
const TY=3;
productNames.forEach((prod,i)=>{
  const [l,t]=grids[i];
  option.grid.push({left:l,top:t,width:GW,height:GH,containLabel:false});
  ['major','minor'].forEach(m=>{option.xAxis.push(ax(i,'bottom','Gauge (mm)',m,false));});
  ['oppMajor','oppMinor'].forEach(m=>{option.xAxis.push(ax(i,'top','',m,false));});
  ['major','minor'].forEach(m=>{option.yAxis.push(ax(i,'left',prod+' (mm)',m,true));});
  ['oppMajor','oppMinor'].forEach(m=>{option.yAxis.push(ax(i,'right','',m,true));});
  const pts=[];
  gaugeHigh.forEach((x,k)=>pts.push([x,highSets[i][k]]));
  gaugeLow.forEach((x,k)=>pts.push([x,lowSets[i][k]]));
  gaugeMid.forEach((col,c)=>col.forEach((x,k)=>{const y=midSets[i][c][k];if(y!==undefined)pts.push([x,y]);}));
  (coreSets[i]).forEach((col,c)=>col.forEach(y=>pts.push([gaugeCore[c],y])));
  extraSets[i].forEach(p=>pts.push(p));
  const ai=i*4;
  option.series.push({type:'scatter',xAxisIndex:ai,yAxisIndex:ai,data:pts,symbol:'circle',symbolSize:13,
    itemStyle:{color:'#0000ff',opacity:1},z:2,silent:true,clip:true});
  option.series.push({type:'line',xAxisIndex:ai,yAxisIndex:ai,data:identityLine,symbol:'none',
    lineStyle:{color:'#000',width:2},z:3,silent:true});
  option.series.push({type:'line',xAxisIndex:ai,yAxisIndex:ai,data:fitSets[i],symbol:'none',clip:true,
    lineStyle:{color:'#ff0000',width:2},z:4,silent:true});
  const L=textLayout[i];
  const txt=(x,y,s,font,extra)=>({type:'text',x,y,z:20,style:Object.assign({text:s,font,fill:'#000',textVerticalAlign:'middle',textAlign:'left'},extra||{})});
  const f44="44.4px "+FF;
  option.graphic.push(
    txt(L.x,L.y[0]+TY,'R',f44),
    txt(L.x+30,L.y[0]+TY-13,'2',"29px "+FF),
    txt(L.x+L.eq,L.y[0]+TY,'= '+r2Labels[i],f44),
    txt(L.x,L.y[1]+TY,'CC = '+ccLabels[i],f44),
    txt(L.x,L.y[2]+TY,'BIAS = '+biasLabels[i],f44));
  const b=L.box;
  option.graphic.push({type:'rect',z:19,shape:{x:b[0],y:b[1],width:b[2]-b[0],height:b[3]-b[1]},style:{fill:'#fff',stroke:'#555',lineWidth:1.5}});
  option.graphic.push(txt((b[0]+b[2])/2,(b[1]+b[3])/2+TY,prod,"bold 40.5px "+FF,{textAlign:'center'}));
});
const chart=echarts.init(document.getElementById('c'),null,{renderer:'canvas'});
chart.setOption(option);
</script>
</body></html>
